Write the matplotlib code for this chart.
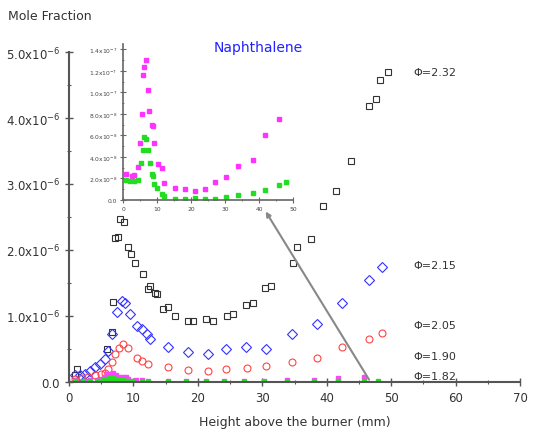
import matplotlib
matplotlib.use("Agg")
import matplotlib.pyplot as plt
from matplotlib.ticker import MultipleLocator, FuncFormatter

# ---- data (x in mm, y in units of 1e-6 for main series) ----
x_232 = [1.0, 1.2, 5.9, 6.6, 6.8, 7.1, 7.6, 7.9, 8.5, 9.2, 9.7, 10.2, 11.5, 12.3, 12.6,
         13.3, 13.6, 14.6, 15.3, 16.4, 18.4, 19.2, 21.3, 22.3, 24.6, 25.4, 27.5, 28.6,
         30.4, 31.3, 34.7, 35.4, 37.5, 39.4, 41.5, 43.7, 46.5, 47.6, 48.3, 49.5]
y_232 = [0.10, 0.20, 0.50, 0.76, 1.21, 2.18, 2.20, 2.47, 2.43, 2.04, 1.94, 1.81, 1.64, 1.41, 1.45,
         1.35, 1.33, 1.10, 1.13, 1.00, 0.93, 0.93, 0.95, 0.93, 1.00, 1.03, 1.16, 1.20,
         1.43, 1.46, 1.81, 2.04, 2.17, 2.67, 2.89, 3.35, 4.18, 4.29, 4.57, 4.70]

x_215 = [1.0, 1.7, 2.5, 3.3, 4.1, 4.8, 5.6, 6.1, 6.6, 7.4, 8.2, 8.7, 9.5, 10.5, 11.3, 12.1,
         12.6, 15.4, 18.4, 21.5, 24.4, 27.5, 30.6, 34.6, 38.5, 42.4, 46.5, 48.6]
y_215 = [0.10, 0.10, 0.12, 0.17, 0.22, 0.27, 0.35, 0.47, 0.73, 1.06, 1.22, 1.20, 1.03, 0.85, 0.80, 0.73,
         0.65, 0.53, 0.45, 0.42, 0.50, 0.53, 0.50, 0.72, 0.88, 1.19, 1.55, 1.74]

x_205 = [1.0, 2.0, 3.0, 4.0, 5.0, 5.6, 6.1, 6.6, 7.2, 7.7, 8.4, 9.2, 10.5, 11.3, 12.3,
         15.4, 18.4, 21.5, 24.4, 27.6, 30.6, 34.6, 38.5, 42.4, 46.5, 48.6]
y_205 = [0.05, 0.06, 0.08, 0.10, 0.12, 0.13, 0.20, 0.30, 0.42, 0.52, 0.58, 0.52, 0.37, 0.32, 0.27,
         0.22, 0.18, 0.17, 0.20, 0.21, 0.24, 0.31, 0.37, 0.53, 0.65, 0.74]

# inset series: y in units of 1e-8
x_190 = [0.9, 2.5, 3.3, 4.3, 5.1, 5.5, 5.9, 6.3, 6.9, 7.3, 7.7, 8.4, 8.8, 9.2, 10.4, 11.4,
         12.2, 15.3, 18.2, 21.3, 24.1, 27.1, 30.3, 33.9, 38.1, 41.8, 45.8]
y_190 = [2.4, 2.2, 2.3, 3.1, 5.3, 8.0, 11.6, 12.4, 13.0, 10.2, 8.3, 7.0, 6.9, 5.3, 3.3, 3.0,
         1.55, 1.1, 1.0, 0.8, 1.0, 1.7, 2.1, 3.2, 3.7, 6.0, 7.5]

x_182 = [0.9, 2.2, 3.3, 4.5, 5.3, 5.8, 6.3, 6.8, 7.3, 8.0, 8.4, 8.9, 9.2, 10.0, 11.4, 12.2,
         15.3, 18.2, 21.3, 24.1, 27.1, 30.3, 33.9, 38.1, 41.8, 45.8, 48.0]
y_182 = [1.9, 1.75, 1.8, 1.86, 3.4, 4.65, 5.9, 5.7, 4.65, 3.4, 2.4, 2.2, 1.5, 1.1, 0.56, 0.4,
         0.05, 0.05, 0.15, 0.05, 0.05, 0.25, 0.5, 0.65, 0.9, 1.35, 1.65]

labels = ["Φ=2.32", "Φ=2.15", "Φ=2.05", "Φ=1.90", "Φ=1.82"]
label_y = [4.7, 1.77, 0.86, 0.39, 0.09]

plt.rcParams['font.family'] = ['DejaVu Sans']
fig = plt.figure(figsize=(5.35, 4.39), dpi=100)
ax = fig.add_axes([69/535, 1-383/439, 451/535, 330/439])

def sc(v, f):
    return [a * f for a in v]

ax.plot(x_232, sc(y_232, 1e-6), ls='none', marker='s', ms=5, mfc='none', mec='#333333', mew=0.8)
ax.plot(x_215, sc(y_215, 1e-6), ls='none', marker='D', ms=5, mfc='none', mec='#3333ff', mew=0.8)
ax.plot(x_205, sc(y_205, 1e-6), ls='none', marker='o', ms=5, mfc='none', mec='#ff4444', mew=0.8)
ax.plot(x_190, sc(y_190, 1e-8), ls='none', marker='s', ms=3, mfc='#ff44ff', mec='#ff44ff')
ax.plot(x_182, sc(y_182, 1e-8), ls='none', marker='s', ms=3, mfc='#22dd22', mec='#22dd22')

ax.set_xlim(0, 70)
ax.set_ylim(0, 5e-6)
ax.xaxis.set_major_locator(MultipleLocator(10))
ax.xaxis.set_minor_locator(MultipleLocator(5))
ax.yaxis.set_major_locator(MultipleLocator(1e-6))
ax.yaxis.set_minor_locator(MultipleLocator(0.5e-6))

def fmt_main(v, pos):
    if abs(v) < 1e-12:
        return "0.0"
    return r"%.1fx10$^{-6}$" % (v / 1e-6)
ax.yaxis.set_major_formatter(FuncFormatter(fmt_main))

for s in ['top', 'right']:
    ax.spines[s].set_visible(False)
for s in ['left', 'bottom']:
    ax.spines[s].set_color('#555555')
    ax.spines[s].set_linewidth(1.5)
ax.tick_params(axis='both', which='major', direction='inout', length=6, width=1, color='#555555',
               labelsize=8.5, labelcolor='#333333')
ax.tick_params(axis='both', which='minor', direction='inout', length=3, width=0.8, color='#555555')
ax.set_xlabel("Height above the burner (mm)", fontsize=9, color='#333333', labelpad=8)

fig.text(8/535, 1-17/439, "Mole Fraction", fontsize=9, color='#333333', va='center', ha='left')
fig.text(258/535, 1-48/439, "Naphthalene", fontsize=10, color='#2222ff', va='center', ha='center')

for lab, ly in zip(labels, label_y):
    ax.text(53.5, ly * 1e-6, lab, fontsize=8, color='#333333', va='center', ha='left')

# arrow from main region to inset
ax.annotate("", xy=(30.3, 2.62e-6), xytext=(46.8, 0.0),
            arrowprops=dict(arrowstyle='-|>', color='#888888', lw=1.5, mutation_scale=7))

# inset
ins = fig.add_axes([123/535, 1-201/439, 170/535, 156/439])
ins.plot(x_190, sc(y_190, 1e-8), ls='none', marker='s', ms=2.8, mfc='#ff33ff', mec='#ff33ff')
ins.plot(x_182, sc(y_182, 1e-8), ls='none', marker='s', ms=2.8, mfc='#22dd22', mec='#22dd22')
ins.set_xlim(0, 50)
ins.set_ylim(0, 1.45e-7)
ins.xaxis.set_major_locator(MultipleLocator(10))
ins.xaxis.set_minor_locator(MultipleLocator(5))
ins.yaxis.set_major_locator(MultipleLocator(2e-8))
ins.yaxis.set_minor_locator(MultipleLocator(1e-8))

def fmt_ins(v, pos):
    if abs(v) < 1e-15:
        return "0.0"
    if v >= 1e-7 - 1e-12:
        return r"%.1fx10$^{-7}$" % (v / 1e-7)
    return r"%.1fx10$^{-8}$" % (v / 1e-8)
ins.yaxis.set_major_formatter(FuncFormatter(fmt_ins))
for s in ['top', 'right']:
    ins.spines[s].set_visible(False)
for s in ['left', 'bottom']:
    ins.spines[s].set_color('#666666')
    ins.spines[s].set_linewidth(1.2)
ins.tick_params(axis='both', which='major', direction='inout', length=4, width=0.8, color='#666666',
                labelsize=4.3, labelcolor='#444444', pad=2)
ins.tick_params(axis='both', which='minor', direction='inout', length=2, width=0.6, color='#666666')

fig.savefig("out.png", dpi=100)
